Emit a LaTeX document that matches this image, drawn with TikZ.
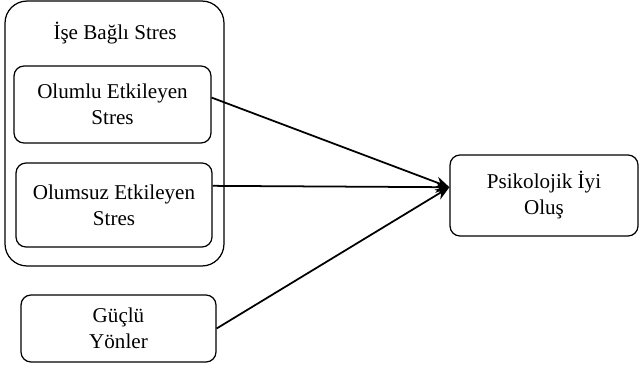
\documentclass[tikz,border=0pt]{standalone}
\usepackage{fontspec}
\setmainfont{Liberation Serif}
\usetikzlibrary{arrows.meta}
\tikzset{
	kutu/.style={draw,line width=0.7pt,rounded corners=0.2cm,align=center,inner sep=0pt},
	ok/.style={line width=1pt,-{Stealth[length=8pt,width=6.5pt]}}
}
\begin{document}
\begin{tikzpicture}[x=0.02cm,y=-0.02cm,font=\fontsize{12}{14.8}\selectfont]
	\useasboundingbox (0,0) rectangle (639,373);
	\node[kutu,rounded corners=0.44cm,minimum width=4.38cm,minimum height=5.3cm] (stres) at (114.5,133.5) {};
	\node (baslik) at (115,33) {İşe Bağlı Stres};
	\node[kutu,minimum width=3.94cm,minimum height=1.54cm] (olumlu) at (112.5,104.5) {Olumlu Etkileyen\\Stres};
	\node[kutu,minimum width=3.92cm,minimum height=1.68cm] (olumsuz) at (114,205) {Olumsuz Etkileyen\\Stres};
	\node[kutu,minimum width=3.9cm,minimum height=1.34cm] (guclu) at (118.5,328.5) {Güçlü\\Yönler};
	\node[kutu,minimum width=3.76cm,minimum height=1.62cm] (iyi) at (544,195.5) {Psikolojik İyi\\Oluş};
	% oklar
	\draw[ok] (olumlu.4)--(iyi.175);
	\draw[ok] (olumsuz.11)--(iyi.175);
	\draw[ok] (guclu.east)--(iyi.175);
\end{tikzpicture}
\end{document}
